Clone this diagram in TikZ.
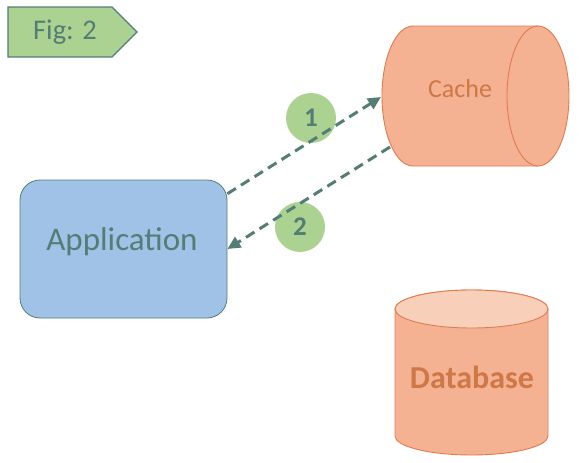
\documentclass[tikz,border=0pt]{standalone}
\usepackage{fontspec}
\setmainfont{Carlito}
\usetikzlibrary{arrows.meta}
\definecolor{tg}{RGB}{84,125,118}
\definecolor{gfill}{RGB}{172,210,146}
\definecolor{bfill}{RGB}{160,194,230}
\definecolor{sfill}{RGB}{245,178,146}
\definecolor{stopc}{RGB}{248,208,186}
\definecolor{sline}{RGB}{226,122,78}
\definecolor{stext}{RGB}{205,120,70}
\begin{document}
\begin{tikzpicture}[x=1pt,y=-1pt,
  cyl/.style={fill=sfill,draw=sline,line width=0.9pt},
  badge/.style={circle,fill=gfill,minimum size=50pt,inner sep=0pt,text=tg,font=\fontsize{27}{30}\selectfont\bfseries},
  flow/.style={draw=tg,line width=3pt,dash pattern=on 10pt off 6pt,-{Triangle[length=13pt,width=12pt]}}]
\useasboundingbox (0,0) rectangle (579,463);
% Fig tag
\path[fill=gfill,draw=tg,line width=1.2pt] (8,7) -- (112,7) -- (137,32) -- (112,57) -- (8,57) -- cycle;
\node[text=tg,font=\fontsize{28.5}{32}\selectfont] (fig) at (65,32) {Fig: 2};
% Application
\node[draw=tg,line width=0.8pt,fill=bfill,rounded corners=20pt,minimum width=207pt,minimum height=138pt] (app) at (123.5,249) {};
\node[text=tg,font=\fontsize{33}{38}\selectfont] (apptext) at (122,242) {Application};
% Cache (horizontal cylinder)
\path[cyl] (413,26) -- (538,26) arc[start angle=-90,end angle=90,x radius=31,y radius=70] -- (413,166) arc[start angle=90,end angle=270,x radius=31,y radius=70] -- cycle;
\draw[draw=sline,line width=0.9pt] (538,26) arc[start angle=-90,end angle=-270,x radius=31,y radius=70];
\node[text=stext,font=\fontsize{26}{30}\selectfont] (cache) at (460,89) {Cache};
\coordinate (cin) at (381,97);
\coordinate (cout) at (390,147);
% Database
\path[cyl] (395,309) -- (395,436) arc[start angle=180,end angle=0,x radius=76.5,y radius=19] -- (548,309) arc[start angle=0,end angle=-180,x radius=76.5,y radius=19] -- cycle;
\draw[fill=stopc,draw=sline,line width=0.9pt] (471.5,309) ellipse[x radius=76.5,y radius=19];
\node[text=stext,font=\fontsize{32}{38}\selectfont\bfseries] (db) at (472,377) {Database};
% badges
\node[badge] (b1) at (311,118) {1};
\node[badge] (b2) at (300,227) {2};
% flows
\draw[flow] (app.28) -- (cin);
\draw[flow] (cout) -- (app.east);
\end{tikzpicture}
\end{document}
